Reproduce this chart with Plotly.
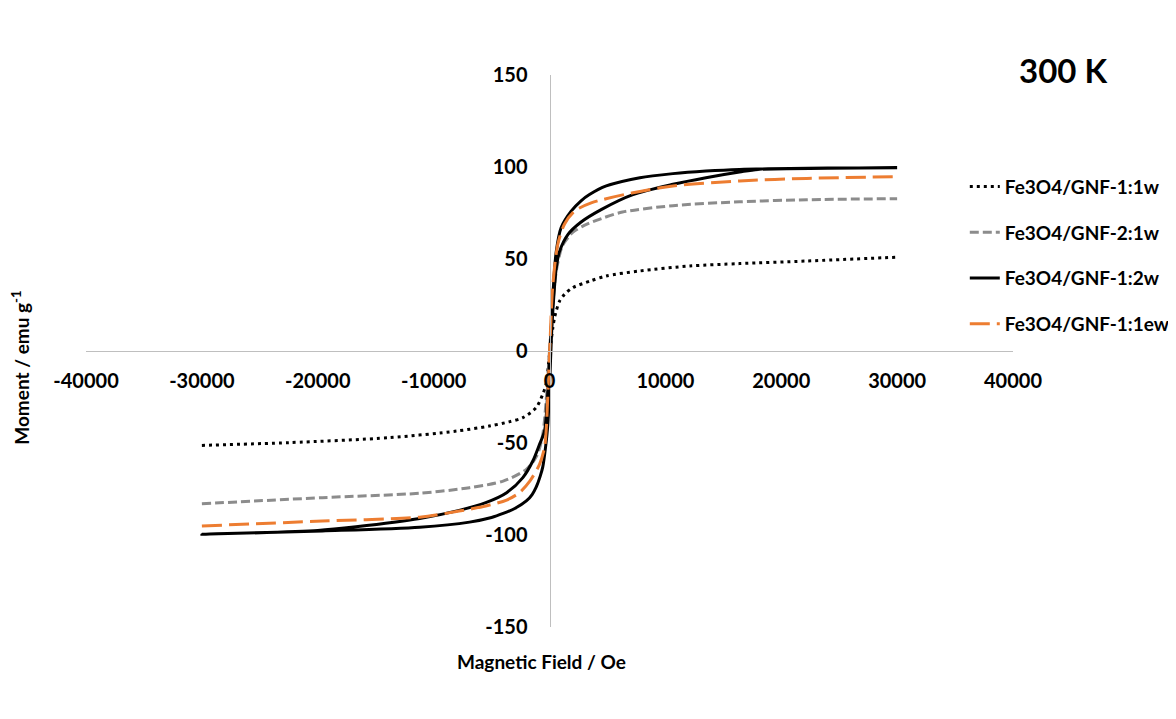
import plotly.graph_objects as go

# ---------------- data ----------------
series_names = ["Fe3O4/GNF-1:1w", "Fe3O4/GNF-2:1w", "Fe3O4/GNF-1:2w", "Fe3O4/GNF-1:1ew"]

field_1_1w = [-30000, -22500, -13800, -8000, -5200, -3500, -2300, -1150, -580, -290, -100, 0,
              150, 290, 430, 580, 860, 1300, 2000, 3500, 4900, 7800, 12100, 16400, 22200, 30000]
moment_1_1w = [-51.3, -49.8, -47.1, -43.5, -40.8, -38.5, -36.2, -30.8, -23.5, -18, -8, -2,
               6, 12.7, 18, 21.7, 27, 30.8, 34.4, 38, 40.8, 43.5, 46.2, 47.5, 48.9, 51]

field_2_1w = [-30000, -19600, -11200, -6900, -4000, -2000, -1100, -600, -300, 0,
              300, 600, 1100, 1600, 2000, 3000, 4500, 6300, 10650, 16400, 22200, 30000]
moment_2_1w = [-83, -79.7, -77.3, -74.3, -70.7, -64.3, -57, -46, -28, 0,
               26, 44, 57, 61.6, 64.5, 68.3, 72, 75.5, 79, 81.1, 82.2, 82.8]

# 1:2w loop - ascending branch then descending branch
field_1_2w_up = [-30000, -19600, -11200, -6900, -5000, -4000, -3000, -2000, -1500, -1150, -800,
                 -580, -345, -145, 0, 150, 290, 580, 860, 1600, 2700, 4500, 7200, 10650, 13500,
                 16400, 18000, 24000, 30000]
moment_1_2w_up = [-99.6, -97.8, -95.8, -93, -90.5, -88.3, -85.6, -81.5, -78, -74, -68,
                  -63, -52.5, -40, -20, 5, 22, 45, 54, 63.4, 70, 77, 85, 90.6, 94.2,
                  97.3, 98.7, 99.3, 99.6]
field_1_2w_down = [30000, 24000, 16400, 13500, 10650, 7800, 4900, 3450, 2700, 1870, 1000, 580,
                   290, 145, 0, -145, -430, -860, -1440, -2300, -3700, -5500, -7800, -11200,
                   -16700, -20000, -30000]
moment_1_2w_down = [99.6, 99.4, 98.7, 97.8, 96.4, 94.2, 89.7, 85, 81.5, 76, 67, 54,
                    30, 12, -5, -22, -43.5, -50.7, -59.8, -68.8, -77, -82.4, -86.6, -91,
                    -95.5, -97.5, -99.6]

field_1_1ew = [-30000, -19600, -11200, -7800, -5500, -3700, -2600, -1700, -860, -430, -290, 0,
               290, 720, 1300, 2160, 3600, 7200, 10650, 16400, 22200, 30000]
moment_1_1ew = [-95.1, -92.4, -90.3, -87, -84.2, -81, -77, -70.7, -61.6, -52.5, -43.5, -2,
                36, 58, 69, 76, 80.5, 86, 89.7, 92.4, 93.8, 94.8]

x_ticks = [-40000, -30000, -20000, -10000, 0, 10000, 20000, 30000, 40000]
y_ticks = [-150, -100, -50, 0, 50, 100, 150]

FONT = "Lato"

fig = go.Figure()

fig.add_trace(go.Scatter(
    x=field_1_1w, y=moment_1_1w, name=series_names[0], mode="lines",
    line=dict(color="black", width=3, dash="3px,4px", shape="spline", smoothing=0.8),
    legendgroup="a"))
fig.add_trace(go.Scatter(
    x=field_2_1w, y=moment_2_1w, name=series_names[1], mode="lines",
    line=dict(color="#8C8C8C", width=3, dash="9px,4px", shape="spline", smoothing=0.8),
    legendgroup="b"))
fig.add_trace(go.Scatter(
    x=field_1_2w_up + field_1_2w_down, y=moment_1_2w_up + moment_1_2w_down,
    name=series_names[2], mode="lines",
    line=dict(color="black", width=3, shape="spline", smoothing=0.8),
    legendgroup="c"))
fig.add_trace(go.Scatter(
    x=field_1_1ew, y=moment_1_1ew, name=series_names[3], mode="lines",
    line=dict(color="#ED7D31", width=3, dash="20px,7px", shape="spline", smoothing=0.8),
    legendgroup="d"))

fig.update_layout(
    width=1176, height=719,
    paper_bgcolor="white", plot_bgcolor="white",
    margin=dict(l=78, r=171, t=67, b=100, pad=0, autoexpand=False),
    font=dict(family=FONT, color="black"),
    xaxis=dict(
        range=[-40000, 40000], tickvals=x_ticks, ticktext=[str(v) for v in x_ticks],
        showgrid=False, zeroline=False, showline=True, linecolor="#BFBFBF", linewidth=1,
        anchor="free", position=0.5, ticks="", ticklabelstandoff=12,
        tickfont=dict(family=FONT, size=20, color="black", weight="bold")),
    yaxis=dict(
        range=[-150, 150], tickvals=y_ticks, ticktext=[str(v) for v in y_ticks],
        showgrid=False, zeroline=False, showline=True, linecolor="#BFBFBF", linewidth=1,
        anchor="free", position=0.5, ticks="", ticklabelstandoff=18,
        tickfont=dict(family=FONT, size=20, color="black", weight="bold")),
    legend=dict(
        x=0.948, y=0.832, xanchor="left", yanchor="top",
        font=dict(family=FONT, size=19, color="black", weight="bold"),
        bgcolor="rgba(0,0,0,0)", itemwidth=30, tracegroupgap=18),
    showlegend=True,
)

fig.add_annotation(text="Magnetic Field / Oe", xref="paper", yref="paper",
                   x=0.491, y=-0.063, showarrow=False, xanchor="center", yanchor="middle",
                   font=dict(family=FONT, size=19, color="black", weight="bold"))
fig.add_annotation(text="Moment / emu g<sup>-1</sup>", xref="paper", yref="paper",
                   x=-0.071, y=0.47, showarrow=False, textangle=-90,
                   xanchor="center", yanchor="middle",
                   font=dict(family=FONT, size=19, color="black", weight="bold"))
fig.add_annotation(text="300 K", xref="paper", yref="paper",
                   x=1.054, y=1.009, showarrow=False, xanchor="center", yanchor="middle",
                   font=dict(family=FONT, size=33, color="black", weight="bold"))

fig.write_html("out.html")
